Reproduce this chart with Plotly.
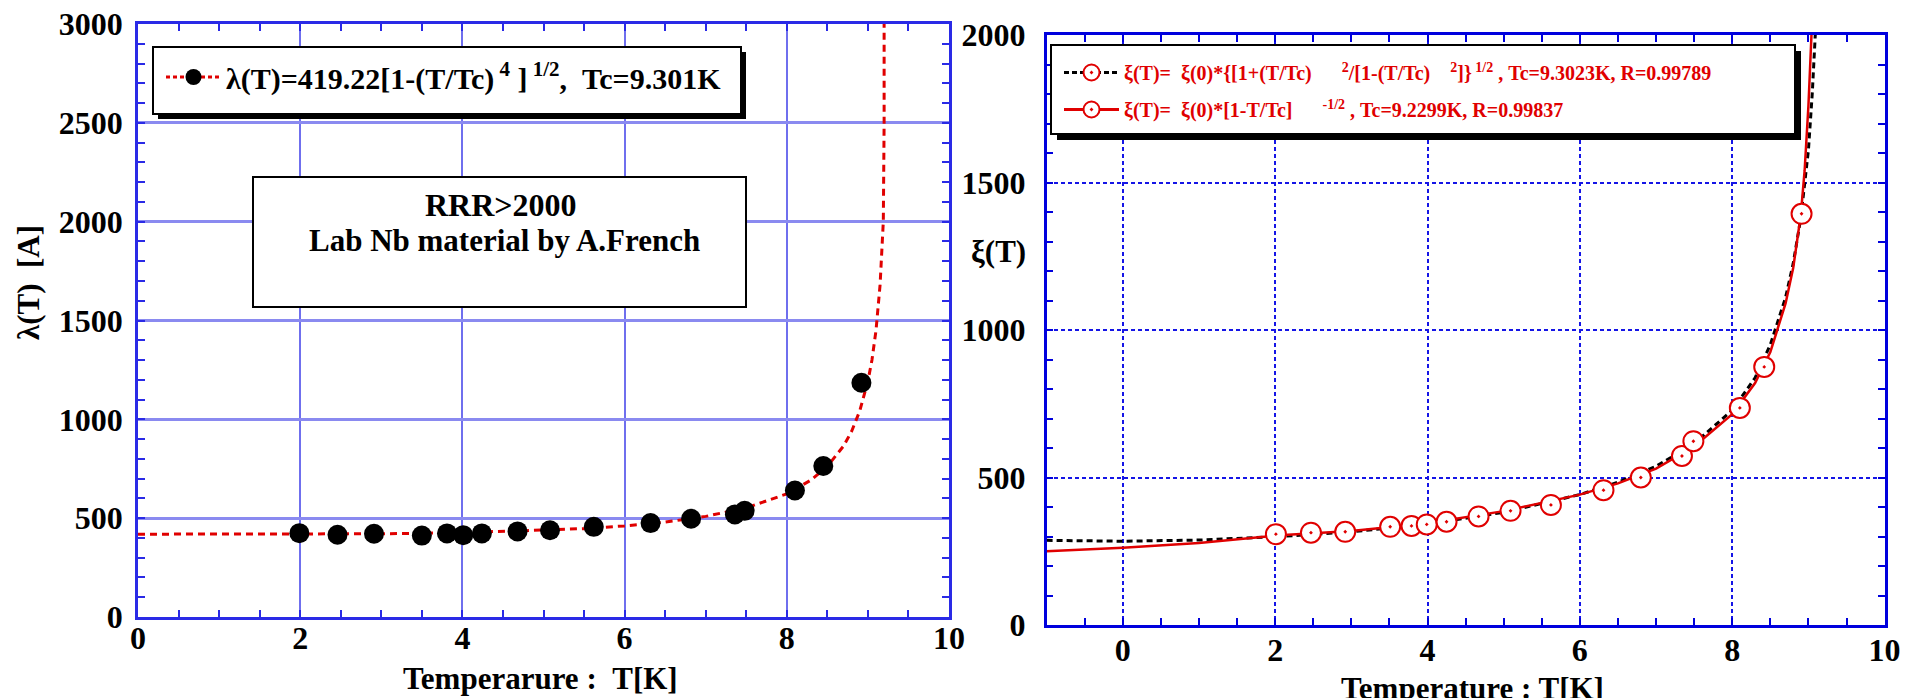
import plotly.graph_objects as go

# ---------------- data ----------------
# left panel: penetration depth lambda(T)
lam_T = [1.99, 2.46, 2.91, 3.50, 3.81, 4.01, 4.24, 4.68, 5.08, 5.62, 6.32, 6.82, 7.36, 7.48, 8.10, 8.45, 8.92]
lam_V = [424, 416, 421, 412, 423, 414, 423, 433, 439, 456, 475, 497, 519, 537, 640, 764, 1185]
# fit curve
lamfit_T = [0, 1, 2, 3, 4, 5, 5.5, 6, 6.5, 7, 7.5, 8, 8.3, 8.5, 8.7, 8.8, 8.9, 9.0, 9.05, 9.1, 9.15, 9.19, 9.2, 9.2]
lamfit_V = [419, 419, 420, 421, 427, 438, 447, 461, 480, 509, 552, 623, 693, 762, 865, 940, 1043, 1193, 1300, 1450, 1680, 2000, 2500, 3000]

# right panel: coherence length xi(T)
xi_T = [2.01, 2.47, 2.92, 3.51, 3.79, 3.99, 4.25, 4.67, 5.09, 5.62, 6.31, 6.80, 7.34, 7.49, 8.10, 8.42, 8.91]
xi_V = [308, 313, 316, 333, 336, 341, 350, 368, 387, 407, 457, 500, 573, 623, 736, 875, 1394]
# fit 1 (black dashed)
fit1_T = [-1, 0, 1, 2, 3, 4, 5, 6, 6.5, 7, 7.5, 8, 8.3, 8.5, 8.7, 8.8, 8.9, 8.95, 9.0, 9.05, 9.09]
fit1_V = [287, 284, 288, 299, 316, 342, 382, 442, 484, 538, 615, 728, 838, 950, 1110, 1225, 1380, 1500, 1610, 1800, 2000]
# fit 2 (red solid)
fit2_T = [-1, 0, 1, 2, 3, 4, 5, 6, 6.5, 7, 7.5, 8, 8.3, 8.5, 8.7, 8.8, 8.9, 8.95, 9.0, 9.04]
fit2_V = [250, 262, 278, 303, 319, 345, 386, 442, 480, 530, 605, 715, 820, 925, 1090, 1210, 1390, 1540, 1760, 2000]

left_xticks = [0, 2, 4, 6, 8, 10]
left_yticks = [0, 500, 1000, 1500, 2000, 2500, 3000]
right_xticks = [0, 2, 4, 6, 8, 10]
right_yticks = [0, 500, 1000, 1500, 2000]

leg_left = "λ(T)=419.22[1-(T/Tc)<sup> 4</sup> ]<sup> 1/2</sup>,\u00a0\u00a0Tc=9.301K"
leg_r1 = ("ξ(T)=\u00a0\u00a0ξ(0)*{[1+(T/Tc)\u00a0\u00a0\u00a0\u00a0\u00a0\u00a0<sup>2</sup>/[1-(T/Tc)\u00a0\u00a0\u00a0\u00a0"
          "<sup>2</sup>]}<sup> 1/2</sup> , Tc=9.3023K, R=0.99789")
leg_r2 = "ξ(T)=\u00a0\u00a0ξ(0)*[1-T/Tc]\u00a0\u00a0\u00a0\u00a0\u00a0\u00a0<sup>-1/2</sup> , Tc=9.2299K, R=0.99837"

# ---------------- layout helpers ----------------
W, H = 1909, 698
OFF = 8  # page body margin
def px(x):
    return (x - OFF) / W
def py(y):
    return 1 - (y - OFF) / H

FONT = "Liberation Serif"
RED = "#e00000"

fig = go.Figure()

# left panel
fig.add_trace(go.Scatter(x=lamfit_T, y=lamfit_V, mode="lines", xaxis="x", yaxis="y",
                         line=dict(color=RED, width=3, dash="7px,5px"), showlegend=False))
fig.add_trace(go.Scatter(x=lam_T, y=lam_V, mode="markers", xaxis="x", yaxis="y",
                         marker=dict(color="black", size=20), showlegend=False))
fig.add_trace(go.Scatter(x=[None], y=[None], mode="lines+markers", xaxis="x", yaxis="y",
                         line=dict(color=RED, width=3, dash="4px,3px"),
                         marker=dict(color="black", size=16), name=leg_left, legend="legend"))

# right panel
fig.add_trace(go.Scatter(x=fit1_T, y=fit1_V, mode="lines", xaxis="x2", yaxis="y2",
                         line=dict(color="black", width=3, dash="6px,4px"), showlegend=False))
fig.add_trace(go.Scatter(x=fit2_T, y=fit2_V, mode="lines", xaxis="x2", yaxis="y2",
                         line=dict(color=RED, width=2.5), showlegend=False))
fig.add_trace(go.Scatter(x=xi_T, y=xi_V, mode="markers", xaxis="x2", yaxis="y2",
                         marker=dict(symbol="circle-dot", color="white", size=20,
                                     line=dict(color=RED, width=2)), showlegend=False))
fig.add_trace(go.Scatter(x=[None], y=[None], mode="lines+markers", xaxis="x2", yaxis="y2",
                         line=dict(color="black", width=3, dash="5px,3px"),
                         marker=dict(symbol="circle-dot", color="white", size=16, line=dict(color=RED, width=2)),
                         name=leg_r1, legend="legend2", legendgroup="a"))
fig.add_trace(go.Scatter(x=[None], y=[None], mode="lines+markers", xaxis="x2", yaxis="y2",
                         line=dict(color=RED, width=3),
                         marker=dict(symbol="circle-dot", color="white", size=16, line=dict(color=RED, width=2)),
                         name=leg_r2, legend="legend2", legendgroup="b"))

tickfont = dict(family=FONT, size=32, color="black", weight="bold")
LBLUE = "#2a2ae6"
RBLUE = "#0000dd"

def left_axis(domain, rng, ticks, grid_w, grid_c, minor_dt, standoff):
    return dict(domain=domain, range=rng, tickvals=ticks, showline=True, linecolor=LBLUE, linewidth=2.5,
                mirror="allticks", ticks="inside", ticklen=7, tickwidth=2, tickcolor=LBLUE,
                showgrid=True, gridcolor=grid_c, gridwidth=grid_w, zeroline=False, automargin=False,
                tickfont=tickfont, ticklabelstandoff=standoff, ticklabeloverflow="allow",
                minor=dict(dtick=minor_dt, ticks="inside", ticklen=7, tickwidth=1.5, tickcolor=LBLUE, showgrid=False))

def right_axis(domain, rng, ticks, minor_dt, standoff):
    return dict(domain=domain, range=rng, tickvals=ticks, showline=True, linecolor=RBLUE, linewidth=2.5,
                mirror="allticks", ticks="inside", ticklen=7, tickwidth=2, tickcolor=RBLUE,
                showgrid=True, gridcolor="#1515e6", gridwidth=2, griddash="4px,3px", zeroline=False,
                automargin=False, tickfont=tickfont, ticklabelstandoff=standoff, ticklabeloverflow="allow",
                minor=dict(dtick=minor_dt, ticks="inside", ticklen=7, tickwidth=1.5, tickcolor=RBLUE, showgrid=False))

xa = left_axis([px(138), px(949)], [0, 10], left_xticks, 1.5, "#6f6fee", 0.5, -9)
ya = left_axis([py(617), py(24)], [0, 3000], left_yticks, 3, "#8a8af0", 100, 6)
xa2 = right_axis([px(1046.6), px(1884.6)], [-1, 10], right_xticks, 0.5, -5)
ya2 = right_axis([py(625), py(35)], [0, 2000], right_yticks, 100, 12)
xa2["anchor"] = "y2"
ya2["anchor"] = "x2"
xa["anchor"] = "y"
ya["anchor"] = "x"

def rect(x0, y0, x1, y1, fill, line_c, line_w):
    return dict(type="rect", xref="paper", yref="paper", x0=px(x0), x1=px(x1), y0=py(y1), y1=py(y0),
                fillcolor=fill, line=dict(color=line_c, width=line_w), layer="above")

shapes = [
    rect(158, 52, 746, 119, "black", "black", 0),
    rect(153, 47, 741, 114, "white", "black", 2),
    rect(253, 177, 746, 307, "white", "black", 2),
    rect(1057, 51, 1801, 140, "black", "black", 0),
    rect(1051, 45, 1795, 134, "white", "black", 2),
]

titlefont = dict(family=FONT, size=31, color="black", weight="bold")
def ann(text, x, y, xanchor="center", yanchor="middle", angle=0, font=titlefont):
    return dict(text=text, xref="paper", yref="paper", x=px(x), y=py(y), xanchor=xanchor, yanchor=yanchor,
                textangle=angle, showarrow=False, font=font)

annotations = [
    ann("Temperarure :\u00a0\u00a0T[K]", 540, 678),
    ann("λ(T)\u00a0\u00a0[A]", 28, 283, angle=-90),
    ann("ξ(T)", 998, 252),
    ann("Temperature : T[K]", 1472, 669, yanchor="top"),
    ann("RRR>2000", 501, 205, font=dict(family=FONT, size=32, color="black", weight="bold")),
    ann("Lab Nb material by A.French", 504, 240, font=dict(family=FONT, size=31, color="black", weight="bold")),
]

fig.update_layout(
    width=W, height=H, margin=dict(l=0, r=0, t=0, b=0, autoexpand=False),
    paper_bgcolor="white", plot_bgcolor="white",
    xaxis=xa, yaxis=ya, xaxis2=xa2, yaxis2=ya2,
    shapes=shapes, annotations=annotations,
    legend=dict(x=px(161), y=py(77), xanchor="left", yanchor="middle", bgcolor="rgba(0,0,0,0)",
                borderwidth=0, itemwidth=55,
                font=dict(family=FONT, size=30, color="black", weight="bold")),
    legend2=dict(x=px(1059), y=py(91), xanchor="left", yanchor="middle", bgcolor="rgba(0,0,0,0)",
                 borderwidth=0, itemwidth=55, tracegroupgap=8, traceorder="grouped",
                 font=dict(family=FONT, size=20, color=RED, weight="bold")),
)

fig.write_html("out.html")
